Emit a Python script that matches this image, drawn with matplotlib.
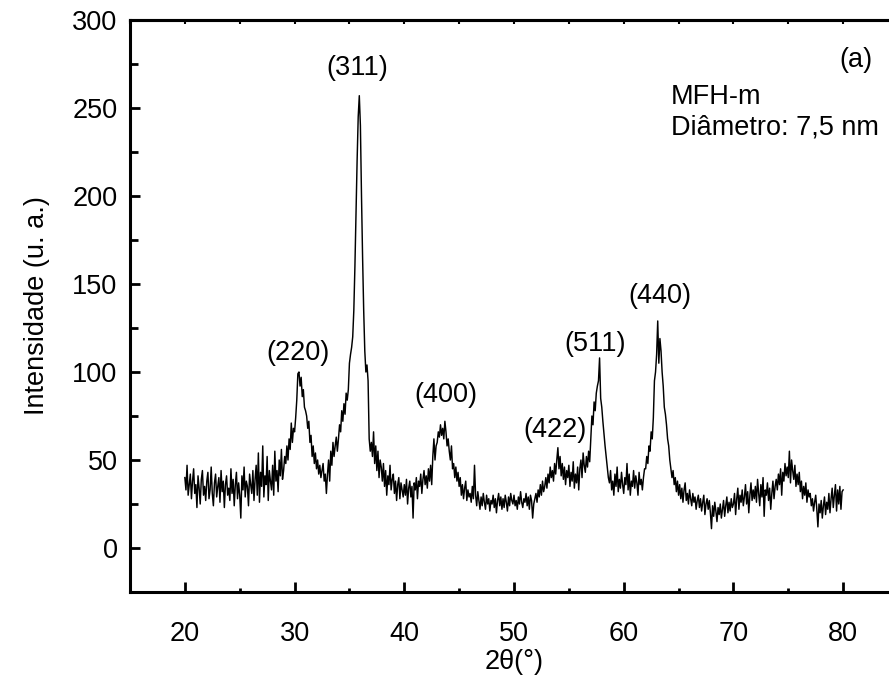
import numpy as np
import matplotlib
matplotlib.use("Agg")
import matplotlib.pyplot as plt
from matplotlib.ticker import MultipleLocator

plt.rcParams['font.family'] = ['Liberation Sans', 'DejaVu Sans']

# ---------------------------------------------------------------
# dados de DRX (2theta de 20 a 80, passo 0,1)
# ---------------------------------------------------------------
two_theta = np.round(20 + 0.1 * np.arange(601), 1)

intensity = [
    40, 33, 47, 30, 36, 42, 28, 38, 45, 31,    # 20
    36, 23, 41, 34, 25, 39, 44, 30, 35, 27,    # 21
    38, 43, 28, 33, 46, 31, 24, 37, 42, 29,    # 22
    35, 40, 26, 44, 32, 38, 23, 36, 41, 30,    # 23
    34, 27, 45, 31, 39, 24, 36, 43, 28, 37,    # 24
    30, 17, 41, 33, 46, 29, 38, 35, 24, 42,    # 25
    36, 31, 44, 27, 39, 47, 30, 54, 26, 43,    # 26
    35, 58, 29, 41, 36, 52, 27, 44, 38, 33,    # 27
    47, 30, 55, 38, 44, 32, 50, 41, 56, 39,    # 28
    44, 52, 48, 58, 50, 62, 56, 71, 60, 68,    # 29
    66, 74, 84, 99, 100, 92, 97, 86, 90, 80,   # 30
    78, 75, 68, 72, 60, 64, 52, 58, 48, 54,    # 31
    45, 50, 42, 47, 40, 44, 48, 38, 42, 31,    # 32
    42, 50, 38, 55, 47, 60, 52, 58, 63, 55,    # 33
    62, 70, 66, 78, 72, 82, 76, 88, 84, 90,    # 34
    105, 110, 114, 120, 135, 160, 190, 220, 245, 257,  # 35
    240, 200, 165, 135, 112, 100, 104, 95, 62, 55,     # 36
    60, 52, 66, 48, 58, 44, 55, 40, 50, 46,    # 37
    38, 48, 35, 44, 30, 41, 36, 47, 33, 39,    # 38
    42, 31, 38, 27, 36, 40, 28, 37, 33, 29,    # 39
    36, 30, 39, 25, 34, 38, 29, 35, 17, 37,    # 40
    33, 40, 28, 38, 35, 42, 31, 39, 44, 36,    # 41
    41, 34, 45, 38, 47, 36, 52, 62, 50, 58,    # 42
    60, 66, 63, 70, 64, 68, 62, 72, 66, 58,    # 43
    62, 55, 50, 58, 45, 48, 40, 46, 38, 43,    # 44
    35, 40, 30, 36, 28, 34, 38, 27, 33, 29,    # 45
    31, 26, 35, 28, 47, 30, 24, 32, 27, 22,    # 46
    29, 24, 31, 26, 22, 30, 25, 28, 21, 27,    # 47
    25, 30, 23, 28, 20, 27, 31, 24, 29, 22,    # 48
    28, 23, 30, 26, 21, 29, 24, 31, 27, 25,    # 49
    30, 24, 27, 22, 29, 25, 32, 26, 23, 28,    # 50
    26, 31, 24, 29, 22, 30, 27, 17, 25, 28,    # 51
    31, 26, 33, 29, 36, 30, 38, 32, 35, 40,    # 52
    34, 42, 37, 46, 40, 44, 38, 48, 42, 50,    # 53
    57, 45, 52, 41, 48, 39, 46, 36, 44, 40,    # 54
    47, 35, 43, 38, 49, 34, 42, 37, 46, 33,    # 55
    45, 50, 40, 54, 47, 43, 52, 46, 55, 49,    # 56
    62, 75, 70, 83, 78, 88, 92, 95, 108, 85,   # 57
    80, 72, 65, 58, 52, 46, 40, 37, 44, 33,    # 58
    38, 30, 42, 35, 46, 32, 39, 34, 43, 36,    # 59
    31, 40, 36, 48, 33, 42, 30, 38, 35, 44,    # 60
    34, 41, 37, 30, 43, 36, 39, 33, 40, 45,    # 61
    45, 52, 48, 58, 55, 66, 62, 74, 95, 100,   # 62
    110, 129, 105, 119, 112, 100, 92, 80, 76, 70,  # 63
    62, 58, 50, 45, 40, 44, 36, 40, 32, 38,    # 64
    30, 36, 28, 34, 26, 33, 37, 27, 31, 25,    # 65
    33, 28, 24, 31, 26, 29, 22, 27, 30, 23,    # 66
    28, 21, 26, 30, 19, 25, 28, 22, 27, 20,    # 67
    11, 24, 18, 26, 21, 15, 23, 19, 25, 17,    # 68
    22, 27, 18, 24, 29, 20, 26, 21, 28, 23,    # 69
    25, 31, 19, 28, 34, 22, 30, 26, 33, 24,    # 70
    29, 36, 25, 32, 20, 30, 37, 27, 33, 28,    # 71
    35, 26, 39, 31, 24, 36, 29, 40, 18, 33,    # 72
    30, 37, 27, 34, 22, 31, 38, 28, 35, 39,    # 73
    33, 42, 36, 45, 30, 43, 38, 48, 41, 46,    # 74
    40, 55, 37, 50, 44, 39, 47, 35, 42, 36,    # 75
    43, 32, 38, 28, 35, 30, 37, 26, 33, 29,    # 76
    31, 24, 28, 21, 26, 30, 22, 12, 25, 20,    # 77
    27, 17, 24, 29, 19, 26, 22, 31, 20, 28,    # 78
    34, 23, 30, 36, 21, 33, 25, 35, 22, 32,    # 79
    33,                                        # 80
]

# rótulos dos picos (hkl) e posição do texto
peak_labels = ['(220)', '(311)', '(400)', '(422)', '(511)', '(440)']
peak_x = [30.3, 35.7, 43.8, 53.7, 57.4, 63.3]
peak_y = [111, 273, 87, 67, 116, 143]

FS = 19.5

# ---------------------------------------------------------------
# figura
# ---------------------------------------------------------------
fig = plt.figure(figsize=(8.89, 6.79), dpi=100)
ax = fig.add_axes([130 / 889, 1 - 592 / 679, 768 / 889, 572 / 679])

ax.plot(two_theta, intensity, color='black', lw=1.05)

for lab, px, py in zip(peak_labels, peak_x, peak_y):
    ax.text(px, py, lab, ha='center', va='center', fontsize=FS)

ax.text(81.2, 277, '(a)', ha='center', va='center', fontsize=FS)
ax.text(64.3, 256, 'MFH-m', ha='left', va='center', fontsize=FS)
ax.text(64.3, 239, 'Diâmetro: 7,5 nm', ha='left', va='center', fontsize=FS)

ax.set_xlim(15, 85)
ax.set_ylim(-25, 300)

ax.xaxis.set_major_locator(MultipleLocator(10))
ax.xaxis.set_minor_locator(MultipleLocator(5))
ax.set_xticks([20, 30, 40, 50, 60, 70, 80])
ax.yaxis.set_major_locator(MultipleLocator(50))
ax.yaxis.set_minor_locator(MultipleLocator(25))
ax.set_yticks([0, 50, 100, 150, 200, 250, 300])

ax.tick_params(axis='both', which='both', direction='in', width=2,
               labelsize=FS)
ax.tick_params(axis='x', which='major', length=7, pad=21)
ax.tick_params(axis='x', which='minor', length=3)
ax.tick_params(axis='y', which='major', length=7, pad=9)
ax.tick_params(axis='y', which='minor', length=6)

# ticks pequenos no topo
top = ax.secondary_xaxis('top')
top.xaxis.set_major_locator(MultipleLocator(5))
top.tick_params(direction='in', length=3, width=1.5, labeltop=False)
top.spines['top'].set_linewidth(2.2)

for sp in ax.spines.values():
    sp.set_linewidth(2.2)

# rótulo do eixo x colocado à mão para caber na figura
fig.text(514 / 889, 1 - 662 / 679, '2θ(°)', ha='center', va='center',
         fontsize=FS)
ax.set_ylabel('Intensidade (u. a.)', fontsize=FS, labelpad=16)

fig.savefig('out.png', dpi=100)
